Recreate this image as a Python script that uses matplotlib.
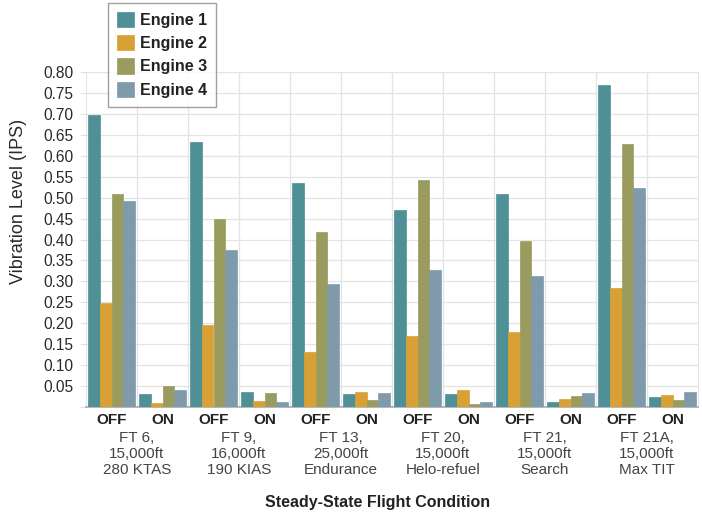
import matplotlib
matplotlib.use("Agg")
import matplotlib.pyplot as plt
import numpy as np

plt.rcParams['font.family'] = ['Liberation Sans', 'DejaVu Sans']

# flight conditions, each with an OFF and an ON bar group
conditions = ["FT 6,\n15,000ft\n280 KTAS", "FT 9,\n16,000ft\n190 KIAS",
              "FT 13,\n25,000ft\nEndurance", "FT 20,\n15,000ft\nHelo-refuel",
              "FT 21,\n15,000ft\nSearch", "FT 21A,\n15,000ft\nMax TIT"]
states = ["OFF", "ON"]

# values ordered OFF, ON for each condition
engine1 = [0.697, 0.030, 0.633, 0.037, 0.535, 0.030, 0.470, 0.030, 0.508, 0.012, 0.768, 0.023]
engine2 = [0.248, 0.009, 0.197, 0.014, 0.131, 0.037, 0.170, 0.040, 0.178, 0.019, 0.285, 0.028]
engine3 = [0.508, 0.049, 0.449, 0.033, 0.418, 0.017, 0.543, 0.008, 0.397, 0.027, 0.628, 0.016]
engine4 = [0.492, 0.041, 0.376, 0.012, 0.293, 0.033, 0.328, 0.013, 0.314, 0.033, 0.522, 0.037]

series = [engine1, engine2, engine3, engine4]
names = ["Engine 1", "Engine 2", "Engine 3", "Engine 4"]
colors = ["#4f8f96", "#d9a035", "#9a9b5f", "#7f9bab"]

fig = plt.figure(figsize=(7.02, 5.14), dpi=100)
ax = fig.add_axes([86/702, 1-407/514, 612/702, 335/514])

n = len(engine1)
x = np.arange(n)
w = 0.23
for k in range(4):
    ax.bar(x + (k - 1.5) * w, series[k], width=w, color=colors[k],
           edgecolor=colors[k], linewidth=0.5, label=names[k], zorder=3)

ax.set_xlim(-0.5, n - 0.5)
ax.set_ylim(0, 0.8)
yt = np.arange(0, 0.801, 0.05)
ax.set_yticks(yt)
ax.set_yticklabels([""] + ["%.2f" % v for v in yt[1:]], fontsize=11.2, color="#2a2a2a")
ax.set_xticks(x)
ax.set_xticklabels(states * len(conditions), fontsize=11, fontweight="bold", color="#222222")
ax.tick_params(axis="x", length=0, pad=4)
ax.tick_params(axis="y", length=4, color="#e0e0e0", pad=5)

# grid
for yv in yt[1:]:
    ax.axhline(yv, color="#e4e4e4", linewidth=0.9, zorder=1)
for xv in np.arange(0.5, n - 0.5, 1):
    ax.axvline(xv, color="#e4e4e4", linewidth=0.9, zorder=1)
for s in ["top", "right", "left"]:
    ax.spines[s].set_color("#e4e4e4")
ax.spines["bottom"].set_color("#aaaaaa")
ax.spines["bottom"].set_linewidth(1.2)

for i, c in enumerate(conditions):
    ax.text(2 * i + 0.5, -0.058, c, ha="center", va="top", fontsize=11,
            color="#444444", linespacing=1.15, transform=ax.transData)

fig.text(19/702, 1-201/514, "Vibration Level (IPS)", rotation=90, ha="center", va="center",
         fontsize=13, color="#2a2a2a")
fig.text(378/702, 1-503/514, "Steady-State Flight Condition", ha="center", va="center",
         fontsize=11.5, fontweight="bold", color="#222222")

leg = fig.legend(loc="upper left", bbox_to_anchor=(108/702, 1-3/514), frameon=True,
                 fancybox=False, edgecolor="#888888", fontsize=11.5,
                 handlelength=1.1, handleheight=1.1, handletextpad=0.35,
                 labelspacing=0.45, borderpad=0.55, borderaxespad=0)
leg.get_frame().set_linewidth(1.0)
for t in leg.get_texts():
    t.set_fontweight("bold")
    t.set_color("#222222")

fig.savefig("out.png", dpi=100)
